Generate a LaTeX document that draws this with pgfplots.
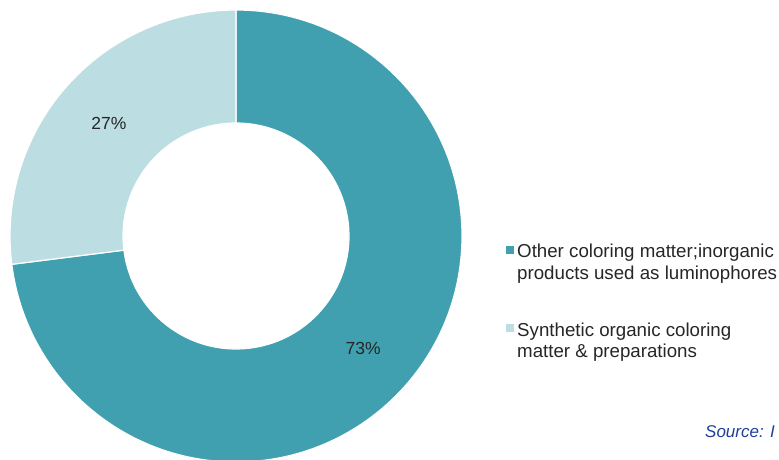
\documentclass[border=0pt]{standalone}
\usepackage{pgfplots}
\pgfplotsset{compat=1.18}
\usepackage{fontspec}
\setmainfont{Liberation Sans}
\definecolor{darkteal}{HTML}{41A0AF}
\definecolor{lightteal}{HTML}{BCDDE2}
\definecolor{srcblue}{HTML}{1F3F9A}
\begin{document}
\begin{tikzpicture}[x=1pt,y=1pt]
\useasboundingbox (0pt,0pt) rectangle (779pt,459pt);
\clip (0pt,0pt) rectangle (779pt,459pt);
% data (percent)
\def\vA{73}
\def\vB{27}
\pgfmathsetmacro{\aStart}{90}
\pgfmathsetmacro{\aMid}{90-\vA*3.6}
\pgfmathsetmacro{\aEnd}{90-(\vA+\vB)*3.6}
\pgfmathsetmacro{\mA}{90-\vA*1.8}
\pgfmathsetmacro{\mB}{90-\vA*3.6-\vB*1.8}
\begin{axis}[at={(236pt,223pt)}, anchor=center, scale only axis,
  width=452pt, height=452pt, xmin=-1, xmax=1, ymin=-1, ymax=1,
  hide axis, clip=false]
\path[fill=darkteal, draw=white, line width=1.2pt]
  (axis cs:{cos(\aStart)},{sin(\aStart)}) arc[start angle=\aStart, end angle=\aMid, radius=226pt]
  -- (axis cs:{0.5*cos(\aMid)},{0.5*sin(\aMid)}) arc[start angle=\aMid, end angle=\aStart, radius=113pt] -- cycle;
\path[fill=lightteal, draw=white, line width=1.2pt]
  (axis cs:{cos(\aMid)},{sin(\aMid)}) arc[start angle=\aMid, end angle=\aEnd, radius=226pt]
  -- (axis cs:{0.5*cos(\aEnd)},{0.5*sin(\aEnd)}) arc[start angle=\aEnd, end angle=\aMid, radius=113pt] -- cycle;
\node[font=\fontsize{17.5}{20}\selectfont, text=black!85] at (axis cs:{0.75*cos(\mA)},{0.75*sin(\mA)}) {\vA\%};
\node[font=\fontsize{17.5}{20}\selectfont, text=black!85] at (axis cs:{0.75*cos(\mB)},{0.75*sin(\mB)}) {\vB\%};
\end{axis}
% legend
\fill[darkteal] (506pt,205pt) rectangle (514pt,213pt);
\node[anchor=base west, inner sep=0pt, align=left, font=\fontsize{18.7}{21.5}\selectfont, text=black!85] at (517pt,180pt) {Other coloring matter;inorganic\\products used as luminophores};
\fill[lightteal] (506pt,127pt) rectangle (514pt,135pt);
\node[anchor=base west, inner sep=0pt, align=left, font=\fontsize{18.7}{21.5}\selectfont, text=black!85] at (517pt,101.5pt) {Synthetic organic coloring\\matter \& preparations};
\node[anchor=base west, inner sep=0pt, font=\fontsize{17}{18}\selectfont\itshape, text=srcblue] at (705pt,22pt) {Source: I};
\end{tikzpicture}
\end{document}
